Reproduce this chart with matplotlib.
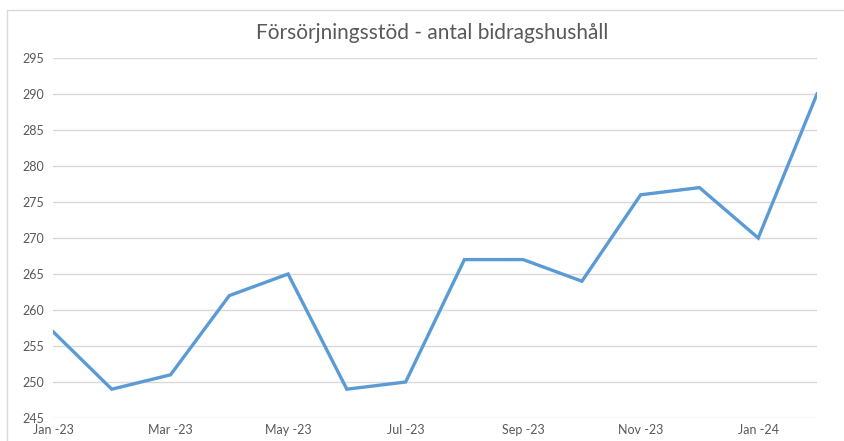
import matplotlib.pyplot as plt
from matplotlib.patches import Rectangle

months = ['Jan -23', 'Feb -23', 'Mar -23', 'Apr -23', 'May -23', 'Jun -23', 'Jul -23',
          'Aug -23', 'Sep -23', 'Oct -23', 'Nov -23', 'Dec -23', 'Jan -24', 'Feb -24']
hushall = [257, 249, 251, 262, 265, 249, 250, 267, 267, 264, 276, 277, 270, 290]
yticks = list(range(245, 300, 5))

plt.rcParams['font.family'] = ['Lato', 'DejaVu Sans']

W, H = 844, 441
fig = plt.figure(figsize=(W / 100, H / 100), dpi=100)
ax = fig.add_axes([53 / W, 1 - 418 / H, (817 - 53) / W, (418 - 58) / H])

# ram runt diagrammet (Excel-stil)
fig.patches.append(Rectangle((7 / W, -0.1), 1.2, 1 - 10 / H + 0.1, transform=fig.transFigure,
                             fill=False, edgecolor='#d9d9d9', linewidth=1))

x = list(range(len(months)))
ax.plot(x, hushall, color='#5b9bd5', linewidth=2.4, solid_joinstyle='miter')

ax.set_xlim(0, len(months) - 1)
ax.set_ylim(245, 295)
ax.set_yticks(yticks)
ax.set_xticks(x[::2])
ax.set_xticklabels(months[::2])
ax.grid(axis='y', color='#d9d9d9', linewidth=1)
ax.set_axisbelow(True)
for s in ax.spines.values():
    s.set_visible(False)
ax.tick_params(length=0, colors='#595959', labelsize=9)
ax.tick_params(axis='y', pad=22)
ax.tick_params(axis='x', pad=4)
for lbl in ax.get_yticklabels():
    lbl.set_horizontalalignment('left')

fig.text(432 / W, 1 - 33 / H, 'Försörjningsstöd - antal bidragshushåll', ha='center', va='center',
         fontsize=15, color='#595959')

fig.savefig('out.png', dpi=100)
